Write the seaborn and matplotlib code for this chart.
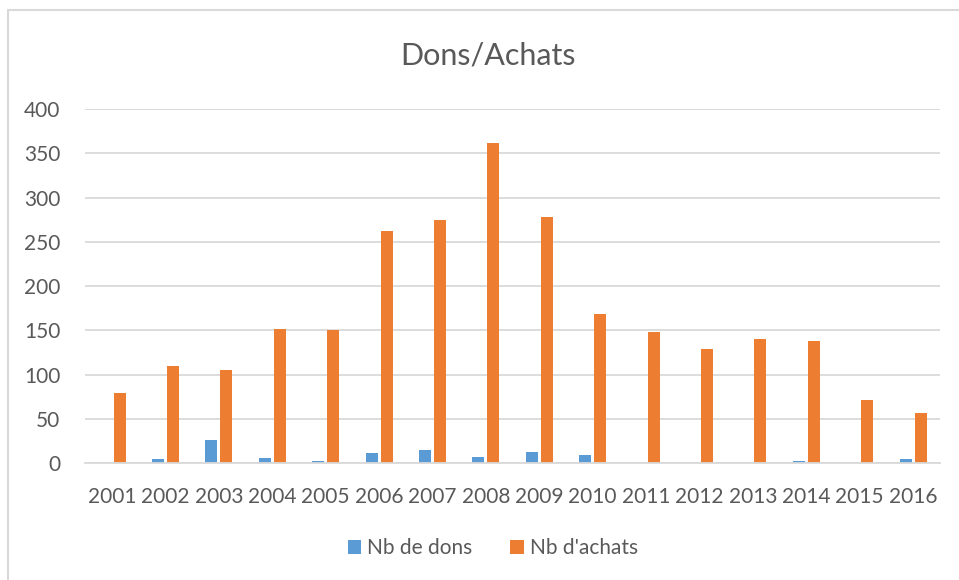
import numpy as np
import pandas as pd
import matplotlib.pyplot as plt
import seaborn as sns
from matplotlib.patches import Rectangle

years = ['2001', '2002', '2003', '2004', '2005', '2006', '2007', '2008',
         '2009', '2010', '2011', '2012', '2013', '2014', '2015', '2016']
nb_dons = [0, 4, 26, 6, 2, 11, 15, 7, 12, 9, 0, 0, 0, 2, 0, 4]
nb_achats = [79, 110, 105, 152, 150, 262, 275, 362, 278, 168, 148, 129, 140, 138, 71, 56]
series = ['Nb de dons', "Nb d'achats"]
colors = ['#5B9BD5', '#ED7D31']

df = pd.DataFrame({'Annee': years * 2,
                   'Valeur': nb_dons + nb_achats,
                   'Serie': [series[0]] * len(years) + [series[1]] * len(years)})

sns.set_style('white')
plt.rcParams['font.family'] = ['Lato', 'DejaVu Sans']
txt = '#595959'

fig = plt.figure(figsize=(9.59, 5.80), dpi=100)
ax = fig.add_axes([0.089, 0.2017, 0.891, 0.6103])

sns.barplot(data=df, x='Annee', y='Valeur', hue='Serie', palette=colors,
            saturation=1, width=0.56, gap=0.2, linewidth=0, ax=ax, legend=True)

ax.set_ylim(0, 400)
ax.set_yticks(np.arange(0, 401, 50))
ax.set_xlim(-0.5, len(years) - 0.5)
ax.grid(axis='y', color='#D9D9D9', linewidth=1.3)
ax.set_axisbelow(True)
for s in ['top', 'right', 'left']:
    ax.spines[s].set_visible(False)
ax.spines['bottom'].set_color('#D9D9D9')
ax.spines['bottom'].set_linewidth(1.3)
ax.tick_params(axis='both', length=0, labelsize=15, colors=txt)
ax.tick_params(axis='y', pad=18)
ax.tick_params(axis='x', pad=17)
ax.set_xlabel('')
ax.set_ylabel('')

fig.text(0.509, 0.905, 'Dons/Achats', ha='center', va='center', fontsize=22, color=txt)

leg = ax.legend(loc='center', bbox_to_anchor=(0.477, -0.24), ncol=2, frameon=False,
                fontsize=15, handlelength=0.65, handleheight=0.65, columnspacing=1.8,
                handletextpad=0.3)
for t in leg.get_texts():
    t.set_color(txt)

# cadre du graphique
fig.patches.append(Rectangle((8 / 959, -0.1), 1.2, 1 - 10 / 580 + 0.1,
                             transform=fig.transFigure, fill=False,
                             edgecolor='#D9D9D9', linewidth=1.5))

fig.savefig('out.png', dpi=100)
